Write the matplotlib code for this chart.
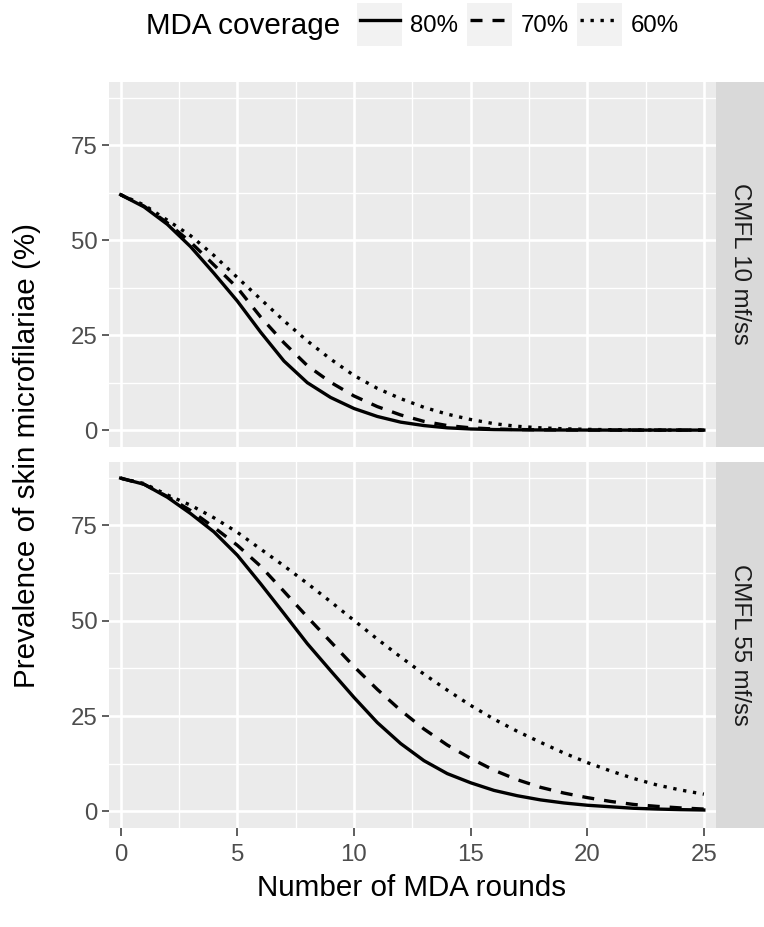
import numpy as np
import matplotlib.pyplot as plt
from matplotlib.legend_handler import HandlerLine2D
from matplotlib.patches import Rectangle
from matplotlib.lines import Line2D

plt.rcParams['font.family'] = ['Liberation Sans', 'DejaVu Sans']

# --- data ---
rounds = np.arange(26)

coverage_labels = ["80%", "70%", "60%"]
panel_labels = ["CMFL 10 mf/ss", "CMFL 55 mf/ss"]

cmfl10_cov80 = [62.0, 58.8, 54.2, 48.3, 41.3, 34.0, 25.8, 18.2, 12.5, 8.6, 5.7, 3.6, 2.1,
                1.2, 0.6, 0.3, 0.15, 0.08, 0.04, 0.02, 0.01, 0, 0, 0, 0, 0]
cmfl10_cov70 = [62.0, 59.0, 54.6, 49.5, 43.5, 37.5, 29.8, 23.0, 17.0, 12.6, 9.0, 6.2, 4.0,
                2.3, 1.2, 0.6, 0.3, 0.15, 0.08, 0.04, 0.02, 0.01, 0, 0, 0, 0]
cmfl10_cov60 = [62.0, 59.3, 55.3, 51.2, 46.0, 40.2, 34.5, 28.8, 23.5, 18.7, 14.4, 11.0, 8.3,
                6.0, 4.2, 2.8, 1.7, 1.0, 0.6, 0.35, 0.2, 0.1, 0.05, 0.02, 0.01, 0]

cmfl55_cov80 = [87.4, 85.8, 82.4, 78.1, 73.3, 67.2, 59.7, 51.9, 44.0, 36.9, 29.9, 23.3, 17.8,
                13.3, 9.9, 7.5, 5.5, 4.1, 3.0, 2.2, 1.6, 1.2, 0.8, 0.6, 0.45, 0.35]
cmfl55_cov70 = [87.4, 85.8, 82.6, 78.9, 74.5, 69.8, 64.3, 57.7, 51.0, 44.5, 38.0, 32.0, 26.5,
                21.6, 17.4, 13.9, 10.8, 8.3, 6.3, 4.8, 3.6, 2.6, 1.8, 1.3, 0.9, 0.6]
cmfl55_cov60 = [87.4, 86.0, 83.0, 80.3, 77.0, 73.2, 68.8, 64.4, 59.8, 55.0, 50.1, 45.2, 40.5,
                36.0, 31.8, 27.8, 24.2, 21.0, 18.1, 15.3, 12.8, 10.6, 8.6, 6.9, 5.6, 4.5]

panel_data = [
    [cmfl10_cov80, cmfl10_cov70, cmfl10_cov60],
    [cmfl55_cov80, cmfl55_cov70, cmfl55_cov60],
]

x_major = [0, 5, 10, 15, 20, 25]
y_major = [0, 25, 50, 75]
# ---

W, H = 764, 927
LINE_W = 2.4
TICK_SIZE = 17.3
TITLE_SIZE = 21.3
line_styles = ['-', (0, (3.6, 3.0)), (0, (1.0, 2.0))]


def px_rect(left, top, right, bottom):
    """Pixel box (from top-left) -> figure fraction rect."""
    return [left / W, 1 - bottom / H, (right - left) / W, (bottom - top) / H]


class KeyHandler(HandlerLine2D):
    """Legend key with a light grey box behind the line, like ggplot."""
    def create_artists(self, legend, orig_handle, xdescent, ydescent,
                       width, height, fontsize, trans):
        bg = Rectangle((-xdescent - 1.8, -ydescent - 3.0), width + 3.6, height + 6.0,
                       facecolor='#F2F2F2', edgecolor='none', transform=trans)
        artists = super().create_artists(legend, orig_handle, xdescent, ydescent,
                                         width, height, fontsize, trans)
        return [bg] + artists


fig = plt.figure(figsize=(W / 100, H / 100), dpi=100)

panel_boxes = [(81.7, 446.7), (461.5, 828.0)]

for i, (top, bottom) in enumerate(panel_boxes):
    ax = fig.add_axes(px_rect(109, top, 715.5, bottom))
    ax.set_facecolor('#EBEBEB')
    for spine in ax.spines.values():
        spine.set_visible(False)
    ax.set_xlim(-0.5, 25.5)
    ax.set_ylim(-4.37, 91.77)
    ax.set_xticks(x_major)
    ax.set_xticks(np.arange(2.5, 25, 5), minor=True)
    ax.set_yticks(y_major)
    ax.set_yticks(np.arange(12.5, 91, 25), minor=True)
    ax.grid(which='major', color='white', lw=1.9)
    ax.grid(which='minor', color='white', lw=1.0)
    ax.set_axisbelow(True)
    ax.tick_params(which='minor', length=0)
    ax.tick_params(which='major', length=5.4, width=1.1, color='#333333',
                   labelcolor='#4D4D4D', labelsize=TICK_SIZE, pad=3)
    ax.tick_params(axis='x', pad=6)
    if i == 0:
        ax.tick_params(axis='x', length=0, labelbottom=False)

    for values, ls in zip(panel_data[i], line_styles):
        ax.plot(rounds, values, color='black', lw=LINE_W, linestyle=ls,
                solid_joinstyle='round', dash_capstyle='butt')

    # facet strip on the right
    strip = fig.add_axes(px_rect(716, top, 764, bottom))
    strip.set_facecolor('#D9D9D9')
    strip.set_xticks([])
    strip.set_yticks([])
    for spine in strip.spines.values():
        spine.set_visible(False)
    strip.text(0.5, 0.5, panel_labels[i], rotation=-90, ha='center', va='center',
               fontsize=TICK_SIZE, color='#1A1A1A', transform=strip.transAxes)

# axis titles
fig.text(27 / W, 1 - 455 / H, 'Prevalence of skin microfilariae (%)', rotation=90,
         ha='center', va='center', fontsize=TITLE_SIZE)
fig.text(412 / W, 1 - 888 / H, 'Number of MDA rounds', ha='center', va='center',
         fontsize=TITLE_SIZE)

# legend on top
handles = [Line2D([], [], color='black', lw=LINE_W, linestyle=ls) for ls in line_styles]
fig.text(146 / W, 1 - 34 / H, 'MDA coverage', ha='left', va='baseline', fontsize=TITLE_SIZE)
fig.legend(handles, coverage_labels, loc='center left',
           bbox_to_anchor=(359.5 / W, 1 - 24.5 / H), ncol=3, frameon=False,
           fontsize=TICK_SIZE, handlelength=40 / 24, handleheight=1.79,
           handletextpad=0.44, columnspacing=0.48, borderpad=0, borderaxespad=0,
           handler_map={Line2D: KeyHandler()})

fig.savefig('out.png', dpi=100)
